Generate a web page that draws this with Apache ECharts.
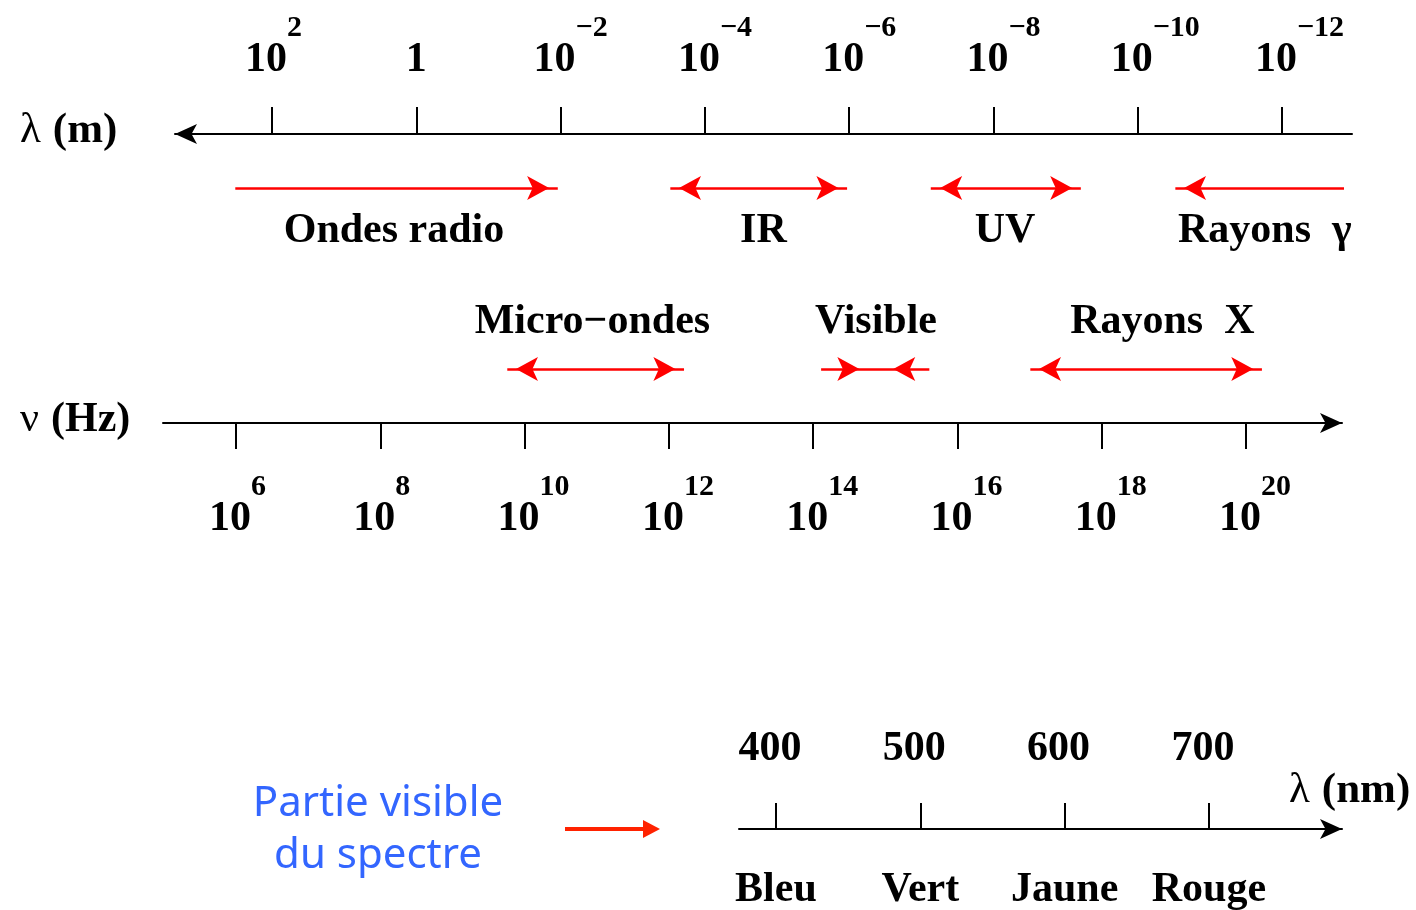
<!DOCTYPE html>
<html><head><meta charset="utf-8">
<script src="https://cdn.jsdelivr.net/npm/echarts@6/dist/echarts.min.js"></script>
<style>html,body{margin:0;padding:0;background:#fff}#c{width:1416px;height:910px}</style>
</head><body><div id="c"></div>
<script>
// ---- data (log10 units) ----
// wavelength axis: log10(λ / m)
const lambdaTicks = [2, 0, -2, -4, -6, -8, -10, -12];
const lambdaRange = [-12.97, 3.345];
// frequency axis: log10(ν / Hz)
const nuTicks = [6, 8, 10, 12, 14, 16, 18, 20];
const nuRange = [4.988, 21.33];
// first row of domains (positions in log10 ν)
const row1Names = ['Ondes radio', 'IR', 'UV', 'Rayons  γ'];
const row1Start = [5.99, 12.02, 15.63, 19.02];
const row1End = [10.46, 14.47, 17.71, 21.36];
const row1LabelAt = [8.19, 13.31, 16.66, 20.26];
const row1HeadsAt = [10.34, 12.14, 14.35, 15.76, 17.59, 19.14];
const row1HeadsDir = ['right', 'left', 'right', 'left', 'right', 'left'];
// second row of domains
const row2Names = ['Micro−ondes', 'Visible', 'Rayons  X'];
const row2Start = [9.76, 14.11, 17.01];
const row2End = [12.21, 15.61, 20.22];
const row2LabelAt = [10.94, 14.87, 18.84];
const row2HeadsAt = [9.88, 12.09, 14.64, 15.11, 17.13, 20.10];
const row2HeadsDir = ['left', 'right', 'right', 'left', 'left', 'right'];
// visible part (nm)
const nmTicks = [400, 500, 600, 700];
const nmColors = ['Bleu', 'Vert', 'Jaune', 'Rouge'];
const nmRange = [374.4, 792.2];

// ---- styles ----
const SERIF = "'Liberation Serif','Times New Roman',serif";
const RED = '#ff0000';
const supRich = {
  b: {fontFamily: SERIF, fontWeight: 'bold', fontSize: 42, lineHeight: 68, verticalAlign: 'bottom', align: 'left', color: '#000'},
  s: {fontFamily: SERIF, fontWeight: 'bold', fontSize: 30, verticalAlign: 'top', align: 'left', width: 12, color: '#000'}
};
function pow10(v) {
  if (v === 0) return '{b|1}';
  return '{b|10}{s|' + (v < 0 ? '−' + (-v) : String(v)) + '}';
}
const blackLine = {color: '#000', width: 2};
function gridDef(left, right, top, height) {
  return {left, right, top, height, containLabel: false, outerBoundsMode: 'none'};
}
function hiddenX(gridIndex, range) {
  return {gridIndex, type: 'value', show: false, min: range[0], max: range[1], splitLine: {show: false}};
}
function yAx(gridIndex) {
  return {gridIndex, type: 'value', show: false, min: -1, max: 1, splitLine: {show: false}};
}
function bandLines(axis, starts, ends) {
  return {type: 'lines', coordinateSystem: 'cartesian2d', xAxisIndex: axis, yAxisIndex: axis,
    polyline: false, silent: true, symbol: 'none', z: 2,
    lineStyle: {color: RED, width: 2.5, opacity: 1, curveness: 0},
    data: starts.map((s, i) => ({coords: [[s, 0], [ends[i], 0]]}))};
}
function heads(axis, at, dir) {
  return {type: 'scatter', xAxisIndex: axis, yAxisIndex: axis, silent: true, z: 3,
    symbol: 'arrow', symbolSize: [18, 22], itemStyle: {color: RED, opacity: 1},
    data: at.map((v, i) => ({value: [v, 0], symbolRotate: dir[i] === 'right' ? -90 : 90}))};
}
function names(axis, at, txt, dy) {
  return {type: 'scatter', xAxisIndex: axis, yAxisIndex: axis, silent: true, z: 4,
    symbolSize: 0, itemStyle: {opacity: 1, color: '#000'},
    label: {show: true, position: 'inside', offset: [0, dy], formatter: '{b}', opacity: 1,
      fontFamily: SERIF, fontWeight: 'bold', fontSize: 42, color: '#000', textBorderWidth: 0},
    data: at.map((v, i) => ({name: txt[i], value: [v, 0]}))};
}
function axisName(x, y, sym, rest, weight, size) {
  return {type: 'text', x, y, style: {
    text: '{g|' + sym + '}{sp|}{t|' + rest + '}', align: 'left', verticalAlign: 'middle', fill: '#000',
    rich: {
      g: {fontFamily: SERIF, fontWeight: 'normal', fontSize: size, fill: '#000'},
      sp: {width: 12, fontSize: size},
      t: {fontFamily: SERIF, fontWeight: weight, fontSize: size, fill: '#000'}
    }}};
}

const chart = echarts.init(document.getElementById('c'));
chart.setOption({
  animation: false, backgroundColor: '#fff',
  grid: [gridDef(175, 64, 134, 10),   // wavelength axis
         gridDef(163, 74, 413, 10),   // frequency axis
         gridDef(163, 74, 178, 20),   // first row of domains
         gridDef(163, 74, 359, 20),   // second row of domains
         gridDef(739, 74, 829, 10),   // nm axis
         gridDef(739, 74, 819, 10)],  // colour names
  xAxis: [
    {gridIndex: 0, type: 'value', position: 'top', inverse: true, min: lambdaRange[0], max: lambdaRange[1], splitLine: {show: false},
     axisLine: {show: true, onZero: false, symbol: ['arrow', 'none'], symbolSize: [15, 22], lineStyle: blackLine},
     axisTick: {show: true, length: 27, customValues: lambdaTicks, lineStyle: blackLine},
     axisLabel: {show: true, customValues: lambdaTicks, margin: 53, formatter: pow10, rich: supRich}},
    {gridIndex: 1, type: 'value', position: 'bottom', min: nuRange[0], max: nuRange[1], splitLine: {show: false},
     axisLine: {show: true, onZero: false, symbol: ['none', 'arrow'], symbolSize: [15, 22], lineStyle: blackLine},
     axisTick: {show: true, length: 26, customValues: nuTicks, lineStyle: blackLine},
     axisLabel: {show: true, customValues: nuTicks, margin: 49, formatter: pow10, rich: supRich}},
    hiddenX(2, nuRange), hiddenX(3, nuRange),
    {gridIndex: 4, type: 'value', position: 'top', min: nmRange[0], max: nmRange[1], splitLine: {show: false},
     axisLine: {show: true, onZero: false, symbol: ['none', 'arrow'], symbolSize: [15, 22], lineStyle: blackLine},
     axisTick: {show: true, length: 26, customValues: nmTicks, lineStyle: blackLine},
     axisLabel: {show: true, customValues: nmTicks, margin: 59, padding: [0, 12, 0, 0], fontFamily: SERIF, fontWeight: 'bold', fontSize: 42, color: '#000'}},
    {gridIndex: 5, type: 'value', position: 'bottom', min: nmRange[0], max: nmRange[1], splitLine: {show: false},
     axisLine: {show: false, onZero: false}, axisTick: {show: false},
     axisLabel: {show: true, customValues: nmTicks, margin: 40, formatter: v => nmColors[nmTicks.indexOf(v)], fontFamily: SERIF, fontWeight: 'bold', fontSize: 42, color: '#000'}}
  ],
  yAxis: [yAx(0), yAx(1), yAx(2), yAx(3), yAx(4), yAx(5)],
  series: [bandLines(2, row1Start, row1End), heads(2, row1HeadsAt, row1HeadsDir), names(2, row1LabelAt, row1Names, 43),
           bandLines(3, row2Start, row2End), heads(3, row2HeadsAt, row2HeadsDir), names(3, row2LabelAt, row2Names, -47)],
  graphic: [
    axisName(20, 131, 'λ', '(m)', 'bold', 43),
    axisName(20, 420, 'ν', '(Hz)', 'bold', 42),
    axisName(1289, 791, 'λ', '(nm)', 'bold', 43),
    {type: 'text', x: 378, y: 830, style: {text: 'Partie visible\ndu spectre', font: '42px "Comic Sans MS","Noto Sans",sans-serif', lineHeight: 52, fill: '#3366ff', align: 'center', verticalAlign: 'middle'}},
    {type: 'line', shape: {x1: 565, y1: 829, x2: 646, y2: 829}, style: {stroke: '#ff2200', lineWidth: 4}},
    {type: 'polygon', shape: {points: [[643, 820], [660, 829], [643, 838]]}, style: {fill: '#ff2200'}}
  ]
});
</script></body></html>
